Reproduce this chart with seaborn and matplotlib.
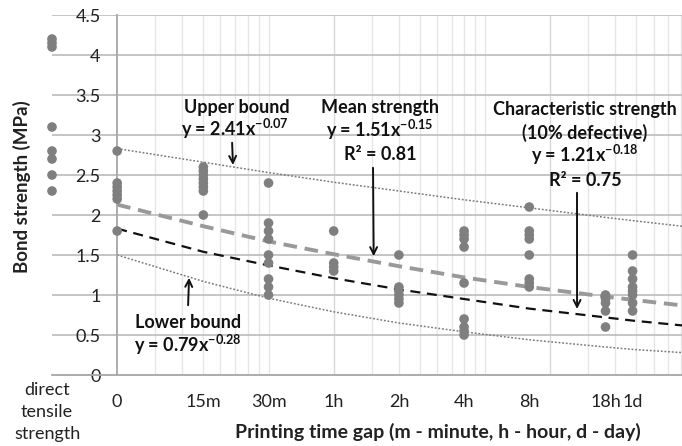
import matplotlib
matplotlib.use("Agg")
import matplotlib.pyplot as plt
import seaborn as sns
import numpy as np
import pandas as pd

# x is in hours on a log axis; the "0" gap sits at 0.1 h, direct tensile at 0.05 h
direct_x = 0.05
direct_vals = [4.2, 4.15, 4.1, 3.1, 2.8, 2.7, 2.5, 2.3]

gap_hours = [0.1, 0.25, 0.5, 1, 2, 4, 8, 18, 24]
gap_labels = ['0', '15m', '30m', '1h', '2h', '4h', '8h', '18h', '1d']
bond_vals = [
    [2.8, 2.4, 2.35, 2.3, 2.25, 2.2, 1.8],
    [2.6, 2.55, 2.5, 2.45, 2.4, 2.35, 2.3, 2.0],
    [2.4, 1.9, 1.8, 1.7, 1.5, 1.4, 1.2, 1.1, 1.0],
    [1.8, 1.4, 1.35, 1.3],
    [1.5, 1.1, 1.05, 1.0, 0.95, 0.9],
    [1.8, 1.75, 1.7, 1.6, 1.15, 0.7, 0.6, 0.55, 0.5],
    [2.1, 1.8, 1.75, 1.7, 1.5, 1.2, 1.15, 1.1],
    [1.0, 0.95, 0.9, 0.8, 0.6],
    [1.5, 1.3, 1.2, 1.1, 1.05, 1.0, 0.9, 0.8],
]

# trend curves
trend_hours = [0.1, 0.25, 0.5, 1, 2, 4, 8, 18, 24, 40.6]
upper_vals = [2.83, 2.66, 2.53, 2.41, 2.30, 2.19, 2.09, 1.97, 1.93, 1.86]
mean_vals = [2.13, 1.86, 1.67, 1.51, 1.36, 1.22, 1.10, 0.98, 0.94, 0.87]
char_vals = [1.83, 1.54, 1.37, 1.21, 1.07, 0.95, 0.83, 0.72, 0.68, 0.62]
lower_vals = [1.50, 1.17, 0.96, 0.79, 0.65, 0.54, 0.44, 0.35, 0.32, 0.28]

W, H = 682, 446

sns.set_style('white')
plt.rcParams['font.family'] = ['Lato', 'DejaVu Sans']
plt.rcParams['mathtext.fontset'] = 'custom'
plt.rcParams['mathtext.rm'] = 'Lato'
plt.rcParams['mathtext.bf'] = 'Lato:bold'

fig = plt.figure(figsize=(W / 100, H / 100), dpi=100)
ax = fig.add_axes([52 / W, 71 / H, 630 / W, 360 / H])


def fp(x, y):
    # pixel position -> figure fraction
    return (x / W, 1 - y / H)


ax.set_xscale('log')
ax.set_xlim(0.05, 40.6)
ax.set_ylim(0, 4.5)

# grid
minor_grid = list(np.arange(0.15, 0.51, 0.05)) + list(np.arange(1.5, 5.1, 0.5)) + list(np.arange(15, 41, 5))
for gx in minor_grid:
    ax.axvline(gx, color='#e6e6e6', lw=1.0, zorder=0)
for gx in [1, 10]:
    ax.axvline(gx, color='#d8d8d8', lw=1.0, zorder=0)
for gy in np.arange(0.5, 4.51, 0.5):
    ax.axhline(gy, color='#c0c0c0', lw=1.3, zorder=0.5)

# trend curves
sns.lineplot(x=trend_hours, y=upper_vals, ax=ax, color='#7a7a7a', lw=1.1)
ax.lines[-1].set_dashes((1.2, 1.2))
sns.lineplot(x=trend_hours, y=lower_vals, ax=ax, color='#7a7a7a', lw=1.1)
ax.lines[-1].set_dashes((1.2, 1.2))
sns.lineplot(x=trend_hours, y=mean_vals, ax=ax, color='#999999', lw=2.8)
ax.lines[-1].set_dashes((3.5, 2.0))
sns.lineplot(x=trend_hours, y=char_vals, ax=ax, color='#111111', lw=1.6)
ax.lines[-1].set_dashes((4.5, 3.0))

# measured points
pts = pd.DataFrame(
    [(direct_x, v) for v in direct_vals]
    + [(h, v) for h, vals in zip(gap_hours, bond_vals) for v in vals],
    columns=['hours', 'strength'])
sns.scatterplot(data=pts, x='hours', y='strength', ax=ax, color='#7f7f7f',
                s=48, edgecolor='none', clip_on=False, zorder=3)

# axes styling
for side in ['top', 'right']:
    ax.spines[side].set_visible(False)
ax.spines['left'].set_position(('data', 0.1))
ax.spines['left'].set_color('#a6a6a6')
ax.spines['bottom'].set_color('#a6a6a6')
ax.spines['left'].set_linewidth(1.3)
ax.spines['bottom'].set_linewidth(1.3)
ax.set_yticks(np.arange(0, 4.51, 0.5))
ax.set_yticklabels(['0', '0.5', '1', '1.5', '2', '2.5', '3', '3.5', '4', '4.5'])
ax.set_xticks(gap_hours)
ax.set_xticklabels(gap_labels)
ax.xaxis.set_minor_locator(matplotlib.ticker.NullLocator())
ax.tick_params(axis='y', length=0, pad=12, labelsize=13, labelcolor='#222222')
ax.tick_params(axis='x', length=0, pad=14, labelsize=13, labelcolor='#222222')
ax.set_xlabel('')
ax.set_ylabel('')

for i, word in enumerate(['direct', 'tensile', 'strength']):
    fig.text(*fp(47, 390 + 22 * i), word, ha='center', va='center', fontsize=13, color='#222222')

fig.text(*fp(22, 187), 'Bond strength (MPa)', rotation=90, ha='center', va='center',
         fontsize=13.5, fontweight='bold', color='#222222')
fig.text(*fp(438, 432), 'Printing time gap (m - minute, h - hour, d - day)', ha='center', va='center',
         fontsize=14, fontweight='bold', color='#222222')

# annotations
tk = dict(ha='center', va='center', fontsize=13, fontweight='bold', color='#111111')
fig.text(*fp(237, 108), 'Upper bound', **tk)
fig.text(*fp(235, 129), r'y = 2.41x$^{\mathbf{-0.07}}$', **tk)
fig.text(*fp(380, 108), 'Mean strength', **tk)
fig.text(*fp(380, 130), r'y = 1.51x$^{\mathbf{-0.15}}$', **tk)
fig.text(*fp(380, 155), 'R² = 0.81', **tk)
fig.text(*fp(585, 110), 'Characteristic strength', **tk)
fig.text(*fp(585, 133), '(10% defective)', **tk)
fig.text(*fp(585, 155), r'y = 1.21x$^{\mathbf{-0.18}}$', **tk)
fig.text(*fp(585, 180), 'R² = 0.75', **tk)
fig.text(*fp(188, 322), 'Lower bound', **tk)
fig.text(*fp(188, 345), r'y = 0.79x$^{\mathbf{-0.28}}$', **tk)

arw = dict(arrowstyle='->,head_length=0.5,head_width=0.25', color='#111111', lw=1.4)
ax.annotate('', xy=(0.343, 2.59), xytext=fp(232, 140), textcoords='figure fraction', arrowprops=arw)
ax.annotate('', xy=(1.53, 1.45), xytext=fp(373, 165), textcoords='figure fraction', arrowprops=arw)
ax.annotate('', xy=(13.3, 0.79), xytext=fp(577, 190), textcoords='figure fraction', arrowprops=arw)
ax.annotate('', xy=(0.215, 1.25), xytext=fp(188, 308), textcoords='figure fraction', arrowprops=arw)

fig.savefig('out.png', dpi=100)
